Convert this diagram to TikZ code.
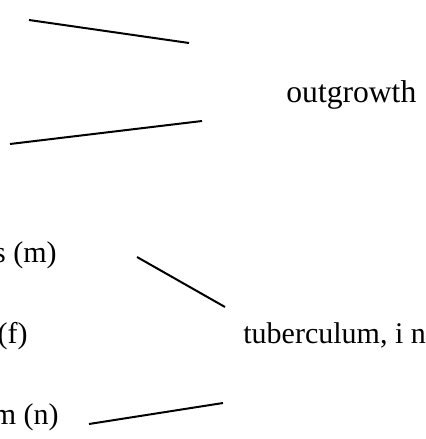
\documentclass[tikz,border=0pt]{standalone}
\usepackage{fontspec}
\setmainfont{Liberation Serif}
\begin{document}
\begin{tikzpicture}[x=0.5pt,y=-0.5pt,
  lbl/.style={inner sep=0pt,font=\fontsize{15}{18}\selectfont},
  biglbl/.style={lbl,font=\fontsize{15.8}{19}\selectfont},
  conn/.style={line width=1pt}]
\useasboundingbox (0,0) rectangle (425,439);
\clip (0,0) rectangle (425,439);
% labels
\node[biglbl,anchor=base west] (out) at (286,102) {outgrowth};
\node[lbl,anchor=base west] (tub) at (243,343) {tuberculum, i n};
\node[lbl,anchor=base east] (pm) at (57,262) {processus (m)};
\node[lbl,anchor=base east] (af) at (28,343) {apophysis (f)};
\node[lbl,anchor=base east] (tn) at (59,424) {tuberculum (n)};
% connector ends
\coordinate (a1) at (29,20);  \coordinate (b1) at (189,43);
\coordinate (a2) at (10,144); \coordinate (b2) at (202,121);
\coordinate (a3) at (137,257); \coordinate (b3) at (225,307);
\coordinate (a4) at (89,424); \coordinate (b4) at (223,403);
\draw[conn] (a1) -- (b1);
\draw[conn] (a2) -- (b2);
\draw[conn] (a3) -- (b3);
\draw[conn] (a4) -- (b4);
\end{tikzpicture}
\end{document}
